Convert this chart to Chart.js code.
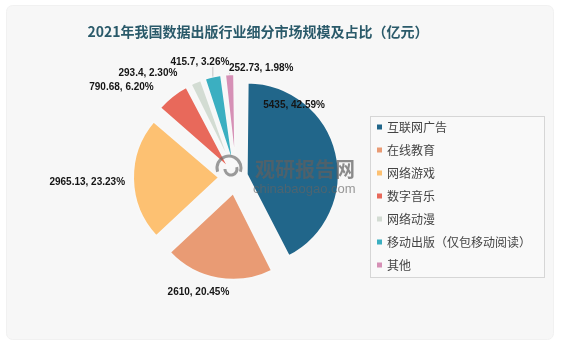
<!DOCTYPE html>
<html>
<head>
<meta charset="utf-8">
<script src="https://cdn.jsdelivr.net/npm/chart.js@4.4.1/dist/chart.umd.min.js"></script>
<style>
html, body { margin: 0; padding: 0; background: #fff; }
#wrap { position: relative; width: 563px; height: 346px; }
</style>
</head>
<body>
<div id="wrap"><canvas id="chPie"></canvas></div>
<script>
// data (亿元)
const categories = ['互联网广告', '在线教育', '网络游戏', '数字音乐', '网络动漫', '移动出版（仅包移动阅读）', '其他'];
const values = [5435, 2610, 2965.13, 790.68, 293.4, 415.7, 252.73];
const shares = [42.59, 20.45, 23.23, 6.20, 2.30, 3.26, 1.98];
const titleText = '2021年我国数据出版行业细分市场规模及占比（亿元）';

const colors = ['#21668a', '#e99b74', '#fdc172', '#e8695b', '#d3dcd3', '#3bafc1', '#d690b6'];

// label placement tweaks (excel style "best fit"), px
const labelShift = [[-78, -45], [-13, 3], [-2, 3], [-27, 0], [-34, 1], [-5, -4], [34, 5]];
const leaderLine = [false, false, false, false, false, true, true];
const explode = 17;

const total = values.reduce((a, b) => a + b, 0);

// chart.js arc offset is not a plain translation, so undo its fix-up
function arcOffset(v) {
    const c = v / total * 2 * Math.PI;
    const fix = 1 - Math.sin(Math.min(Math.PI, c));
    return 4 * explode / (1 + fix);
}

const decor = {
    id: 'decor',
    beforeDraw(chart) {
        const ctx = chart.ctx;
        ctx.save();
        ctx.fillStyle = '#f7f7f7';
        ctx.strokeStyle = '#f1f1f1';
        ctx.beginPath();
        ctx.roundRect(6.5, 5.5, 547, 334, 6);
        ctx.fill();
        ctx.stroke();
        ctx.restore();
    },
    afterDatasetsDraw(chart) {
        const ctx = chart.ctx;
        const meta = chart.getDatasetMeta(0);

        // watermark
        ctx.save();
        ctx.strokeStyle = 'rgba(105,105,105,0.65)';
        ctx.lineWidth = 3;
        ctx.beginPath();
        ctx.arc(229, 168, 12, Math.PI * 0.9, Math.PI * 2.1);
        ctx.stroke();
        ctx.beginPath();
        ctx.arc(231, 169, 6, Math.PI * 1.9, Math.PI * 3.0);
        ctx.stroke();
        ctx.fillStyle = 'rgba(95,95,95,0.72)';
        ctx.font = 'bold 20px "Noto Sans CJK SC"';
        ctx.textBaseline = 'middle';
        ctx.textAlign = 'left';
        ctx.fillText('观研报告网', 255, 169);
        ctx.font = '13px "Liberation Sans"';
        ctx.fillStyle = 'rgba(100,100,100,0.65)';
        ctx.fillText('chinabaogao.com', 253, 189);
        ctx.restore();

        // data labels
        ctx.save();
        ctx.font = 'bold 10px "Liberation Sans"';
        ctx.fillStyle = '#151515';
        ctx.textAlign = 'center';
        ctx.textBaseline = 'middle';
        meta.data.forEach(function(arc, i) {
            const mid = (arc.startAngle + arc.endAngle) / 2;
            const dx = Math.cos(mid), dy = Math.sin(mid);
            const txt = values[i] + ', ' + shares[i].toFixed(2) + '%';
            const w = ctx.measureText(txt).width;
            const rr = arc.outerRadius + explode;
            const ax = arc.x + dx * (rr + 6), ay = arc.y + dy * (rr + 6);
            const cx = ax + dx * w / 2 + labelShift[i][0];
            const cy = ay + dy * 5 + labelShift[i][1];
            if (leaderLine[i]) {
                const ox = arc.x + dx * rr, oy = arc.y + dy * rr;
                const tx = Math.min(Math.max(ox, cx - w / 2 - 2), cx + w / 2 + 2);
                const ty = Math.min(Math.max(oy, cy - 5), cy + 5);
                ctx.save();
                ctx.strokeStyle = '#c4c4c4';
                ctx.lineWidth = 1;
                ctx.beginPath();
                ctx.moveTo(ox, oy);
                ctx.lineTo(tx, ty);
                ctx.stroke();
                ctx.restore();
            }
            ctx.fillText(txt, cx, cy);
        });
        ctx.restore();
    },
    afterDraw(chart) {
        const ctx = chart.ctx;
        ctx.save();
        // title
        ctx.font = 'bold 14px "Noto Sans CJK SC"';
        ctx.fillStyle = '#2a5a6a';
        ctx.textAlign = 'center';
        ctx.textBaseline = 'middle';
        ctx.fillText(titleText, 258, 32);

        // legend box
        ctx.fillStyle = '#f9f9f9';
        ctx.strokeStyle = '#d6d6d6';
        ctx.lineWidth = 1;
        ctx.fillRect(370.5, 116.5, 174, 161);
        ctx.strokeRect(370.5, 116.5, 174, 161);
        ctx.font = '12px "Noto Sans CJK SC"';
        ctx.textAlign = 'left';
        categories.forEach(function(name, i) {
            const y = 127 + i * 23;
            ctx.fillStyle = colors[i];
            ctx.fillRect(377, y - 2.5, 5, 5);
            ctx.fillStyle = '#444444';
            ctx.fillText(name, 387, y);
        });
        ctx.restore();
    }
};

const chPie = document.getElementById('chPie');
new Chart(chPie, {
    type: 'pie',
    data: {
        labels: categories,
        datasets: [{
            data: values,
            backgroundColor: colors,
            borderColor: '#f8f8f8',
            borderWidth: 2,
            offset: values.map(arcOffset)
        }]
    },
    options: {
        responsive: true,
        maintainAspectRatio: false,
        animation: false,
        events: [],
        radius: 86,
        layout: {
            padding: {left: 30, right: 121, top: 30, bottom: 22}
        },
        plugins: {
            legend: {display: false},
            title: {display: false},
            tooltip: {enabled: false}
        }
    },
    plugins: [decor]
});
</script>
</body>
</html>
